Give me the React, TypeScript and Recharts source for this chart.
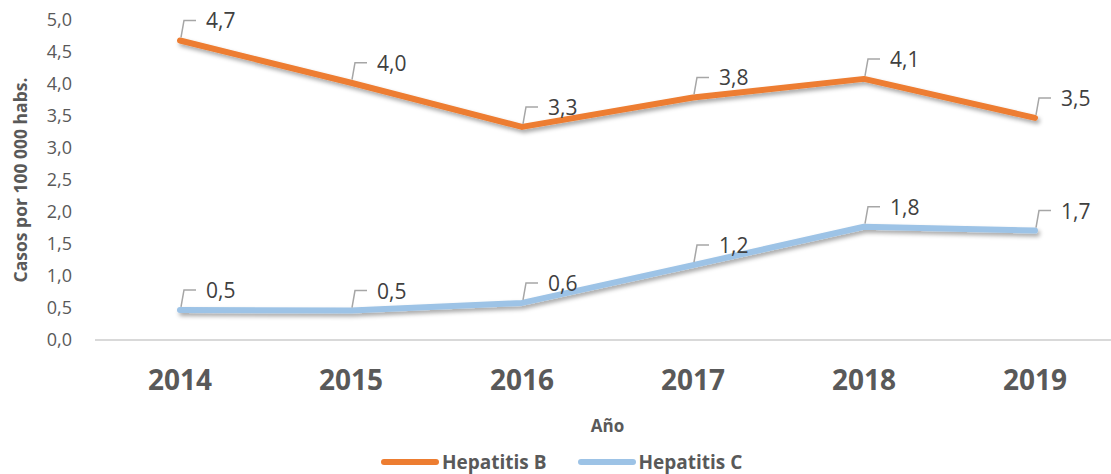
import { LineChart, Line, XAxis, YAxis, Legend, LabelList } from 'recharts';

const years = ['2014', '2015', '2016', '2017', '2018', '2019'];
const hepatitisB = [4.68, 4.02, 3.33, 3.79, 4.08, 3.47];
const hepatitisC = [0.47, 0.46, 0.58, 1.17, 1.77, 1.71];
const yTicks = [0, 0.5, 1, 1.5, 2, 2.5, 3, 3.5, 4, 4.5, 5];

const data = years.map((year, i) => ({
  year,
  b: hepatitisB[i],
  c: hepatitisC[i],
}));

const FONT = '"Open Sans", sans-serif';
const fmt = (v: number) => v.toFixed(1).replace('.', ',');

function CalloutLabel(props: any) {
  const { x, y, value } = props;
  if (x == null || y == null) return null;
  const lift = 20;
  return (
    <g>
      <path
        d={`M${x + 1},${y - 3} L${x + 4},${y - lift} L${x + 16},${y - lift}`}
        stroke="#a6a6a6"
        strokeWidth={1.5}
        fill="none"
      />
      <text
        x={x + 26}
        y={y - lift}
        dominantBaseline="central"
        fontSize={21}
        fontFamily={FONT}
        fill="#404040"
      >
        {fmt(value)}
      </text>
    </g>
  );
}

function YTitle(props: any) {
  const vb = props.viewBox || { y: 20, height: 320 };
  const cy = vb.y + vb.height / 2;
  return (
    <text
      x={20}
      y={cy}
      transform={`rotate(-90, 20, ${cy})`}
      textAnchor="middle"
      dominantBaseline="central"
      fontSize={17.5}
      fontWeight="bold"
      fontFamily={FONT}
      fill="#595959"
    >
      Casos por 100 000 habs.
    </text>
  );
}

function LegendContent() {
  const items = [
    { name: 'Hepatitis B', color: '#ED7D31' },
    { name: 'Hepatitis C', color: '#9DC3E6' },
  ];
  return (
    <div style={{ display: 'flex', alignItems: 'center', height: 40, paddingTop: 16, boxSizing: 'border-box' }}>
      {items.map((it) => (
        <div key={it.name} style={{ display: 'flex', alignItems: 'center', marginRight: 30 }}>
          <svg width={60} height={10}>
            <line x1={4} y1={5} x2={56} y2={5} stroke={it.color} strokeWidth={6} strokeLinecap="round" />
          </svg>
          <span style={{ fontFamily: FONT, fontWeight: 'bold', fontSize: 19, color: '#595959', marginLeft: 2 }}>
            {it.name}
          </span>
        </div>
      ))}
    </div>
  );
}

export default function App() {
  return (
    <div style={{ position: 'absolute', left: 0, top: 0, width: 1111, height: 474, overflow: 'hidden', background: '#fff' }}>
      <LineChart width={1120} height={474} data={data} margin={{ top: 20, right: 0, left: 0, bottom: 0 }}>
        <defs>
          <filter id="shadow" x="-5%" y="-30%" width="110%" height="180%">
            <feDropShadow dx="2" dy="3" stdDeviation="2" floodColor="#000" floodOpacity="0.35" />
          </filter>
        </defs>
        <XAxis
          dataKey="year"
          height={94}
          padding={{ left: 85, right: 85 }}
          axisLine={{ stroke: '#d9d9d9', strokeWidth: 2 }}
          tickLine={false}
          tickMargin={24}
          tick={{ fontSize: 28, fontWeight: 'bold', fill: '#595959', fontFamily: FONT }}
          label={{ value: 'Año', position: 'insideBottom', offset: 2, fontSize: 17, fontWeight: 'bold', fill: '#595959', fontFamily: FONT }}
        />
        <YAxis
          width={95}
          domain={[0, 5]}
          ticks={yTicks}
          axisLine={false}
          tickLine={false}
          tickMargin={17}
          tickFormatter={fmt}
          tick={{ fontSize: 18, fill: '#595959', fontFamily: FONT }}
          label={<YTitle />}
        />
        <Legend
          verticalAlign="bottom"
          height={40}
          content={<LegendContent />}
          wrapperStyle={{ left: 380, width: 460 }}
        />
        <Line
          name="Hepatitis B"
          dataKey="b"
          stroke="#ED7D31"
          strokeWidth={6}
          strokeLinecap="round"
          strokeLinejoin="round"
          dot={false}
          activeDot={false}
          filter="url(#shadow)"
          isAnimationActive={false}
        >
          <LabelList dataKey="b" content={<CalloutLabel />} />
        </Line>
        <Line
          name="Hepatitis C"
          dataKey="c"
          stroke="#9DC3E6"
          strokeWidth={6}
          strokeLinecap="round"
          strokeLinejoin="round"
          dot={false}
          activeDot={false}
          filter="url(#shadow)"
          isAnimationActive={false}
        >
          <LabelList dataKey="c" content={<CalloutLabel />} />
        </Line>
      </LineChart>
    </div>
  );
}
